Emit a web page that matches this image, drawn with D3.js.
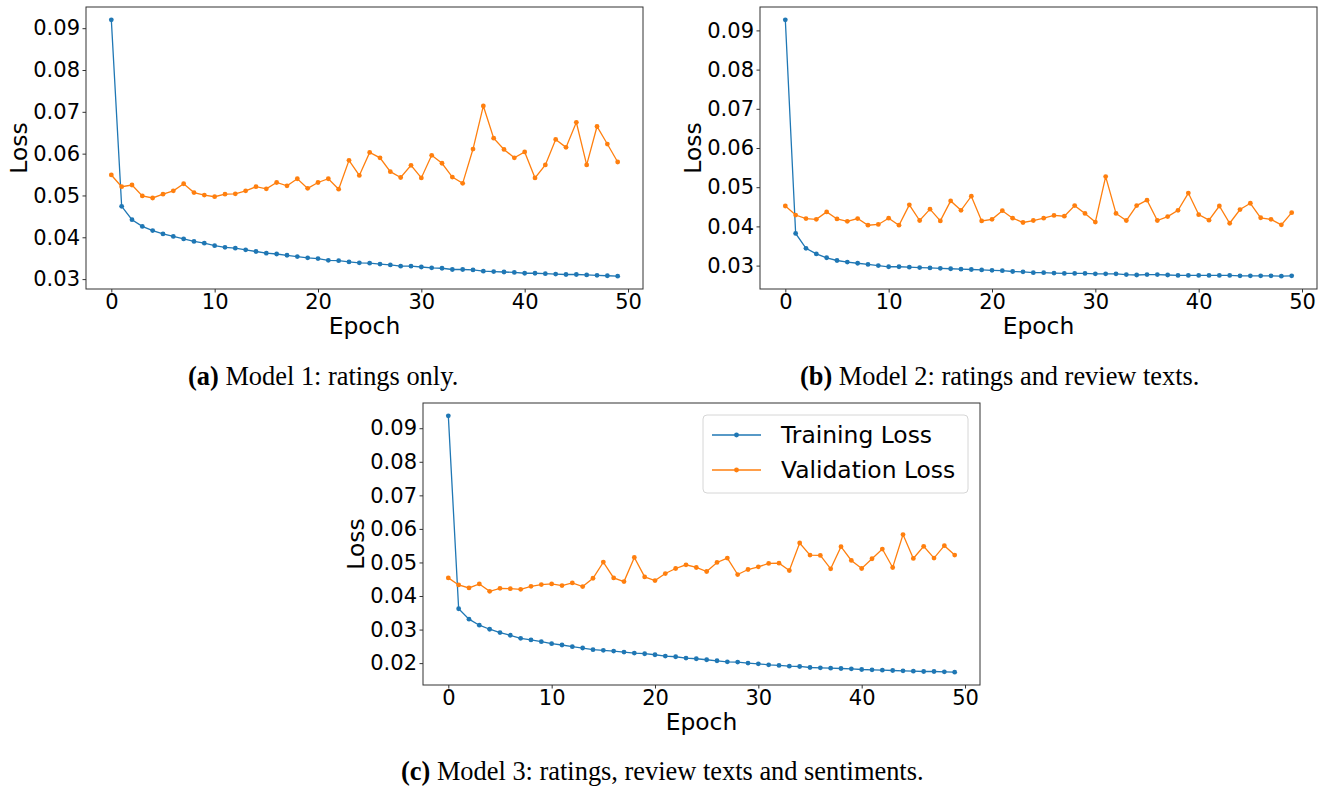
<!DOCTYPE html>
<html>
<head>
<meta charset="utf-8">
<script src="https://cdn.jsdelivr.net/npm/d3@7/dist/d3.min.js"></script>
<style>
  body { margin: 0; background: #fff; }
  svg { display: block; }
  .tick text { font-family: "DejaVu Sans", sans-serif; font-size: 21px; fill: #000; }
  .tick line { stroke: #333; stroke-width: 1; }
  .lbl { font-family: "DejaVu Sans", sans-serif; font-size: 23.4px; fill: #000; }
  .cap { font-family: "Liberation Serif", "Times New Roman", serif; font-size: 26.4px; fill: #000; }
</style>
</head>
<body>
<div id="chart"></div>
<script>
// Model 1: ratings only
const trainA = [0.0920, 0.0474, 0.0442, 0.0426, 0.0416, 0.0408, 0.0402, 0.0396, 0.0390, 0.0386,
  0.0380, 0.0376, 0.0374, 0.0370, 0.0366, 0.0362, 0.0360, 0.0357, 0.0354, 0.0351,
  0.0349, 0.0345, 0.0344, 0.0341, 0.0339, 0.0338, 0.0336, 0.0334, 0.0331, 0.0331,
  0.0329, 0.0327, 0.0326, 0.0323, 0.0323, 0.0322, 0.0319, 0.0318, 0.0317, 0.0316,
  0.0314, 0.0314, 0.0313, 0.0312, 0.0311, 0.0311, 0.0310, 0.0309, 0.0308, 0.0307];
const validA = [0.0549, 0.0521, 0.0525, 0.0499, 0.0494, 0.0503, 0.0511, 0.0528, 0.0507, 0.0501,
  0.0497, 0.0503, 0.0504, 0.0511, 0.0521, 0.0516, 0.0531, 0.0523, 0.0540, 0.0517,
  0.0531, 0.0540, 0.0515, 0.0584, 0.0548, 0.0603, 0.0590, 0.0557, 0.0543, 0.0572,
  0.0542, 0.0596, 0.0577, 0.0544, 0.0529, 0.0611, 0.0714, 0.0637, 0.0610, 0.0590,
  0.0604, 0.0542, 0.0573, 0.0634, 0.0615, 0.0675, 0.0573, 0.0665, 0.0623, 0.0580];

// Model 2: ratings and review texts
const trainB = [0.0927, 0.0382, 0.0344, 0.0330, 0.0320, 0.0313, 0.0309, 0.0306, 0.0303, 0.0300,
  0.0297, 0.0297, 0.0296, 0.0295, 0.0294, 0.0293, 0.0292, 0.0291, 0.0290, 0.0289,
  0.0288, 0.0287, 0.0285, 0.0284, 0.0282, 0.0282, 0.0281, 0.0280, 0.0280, 0.0280,
  0.0279, 0.0279, 0.0279, 0.0277, 0.0276, 0.0277, 0.0277, 0.0276, 0.0275, 0.0275,
  0.0275, 0.0275, 0.0275, 0.0275, 0.0274, 0.0274, 0.0274, 0.0274, 0.0273, 0.0274];
const validB = [0.0452, 0.0429, 0.0420, 0.0418, 0.0437, 0.0419, 0.0413, 0.0420, 0.0403, 0.0405,
  0.0421, 0.0403, 0.0455, 0.0415, 0.0444, 0.0414, 0.0465, 0.0441, 0.0477, 0.0414,
  0.0418, 0.0440, 0.0421, 0.0410, 0.0415, 0.0421, 0.0428, 0.0426, 0.0453, 0.0433,
  0.0411, 0.0527, 0.0433, 0.0415, 0.0453, 0.0467, 0.0415, 0.0425, 0.0441, 0.0485,
  0.0430, 0.0416, 0.0452, 0.0408, 0.0443, 0.0459, 0.0422, 0.0418, 0.0404, 0.0435];

// Model 3: ratings, review texts and sentiments
const trainC = [0.0937, 0.0362, 0.0331, 0.0313, 0.0301, 0.0291, 0.0283, 0.0274, 0.0269, 0.0264,
  0.0258, 0.0254, 0.0249, 0.0245, 0.0240, 0.0238, 0.0236, 0.0233, 0.0230, 0.0228,
  0.0225, 0.0221, 0.0219, 0.0215, 0.0213, 0.0210, 0.0207, 0.0204, 0.0203, 0.0200,
  0.0198, 0.0195, 0.0193, 0.0191, 0.0190, 0.0187, 0.0186, 0.0185, 0.0184, 0.0183,
  0.0181, 0.0180, 0.0179, 0.0178, 0.0177, 0.0176, 0.0175, 0.0175, 0.0174, 0.0173];
const validC = [0.0454, 0.0433, 0.0424, 0.0436, 0.0414, 0.0423, 0.0422, 0.0420, 0.0429, 0.0434,
  0.0436, 0.0431, 0.0439, 0.0428, 0.0453, 0.0501, 0.0454, 0.0443, 0.0515, 0.0457,
  0.0446, 0.0467, 0.0482, 0.0493, 0.0485, 0.0473, 0.0500, 0.0513, 0.0464, 0.0479,
  0.0487, 0.0497, 0.0498, 0.0476, 0.0558, 0.0522, 0.0521, 0.0481, 0.0547, 0.0506,
  0.0482, 0.0511, 0.0540, 0.0485, 0.0583, 0.0512, 0.0548, 0.0513, 0.0550, 0.0522];

const xTicks = [0, 10, 20, 30, 40, 50];
const yTicksAB = [0.03, 0.04, 0.05, 0.06, 0.07, 0.08, 0.09];
const yTicksC = [0.02, 0.03, 0.04, 0.05, 0.06, 0.07, 0.08, 0.09];
const seriesNames = ["Training Loss", "Validation Loss"];
const colors = ["#1f77b4", "#ff7f0e"];

const W = 1326, H = 787;
const pw = 557, ph = 282;

const svg = d3.select("#chart").append("svg")
  .attr("width", W).attr("height", H);

function drawPanel(left, top, train, valid, yTicks) {
  const g = svg.append("g").attr("transform", `translate(${left},${top})`);

  // matplotlib-style auto limits: 5% margin on each side
  const n = train.length;
  const x = d3.scaleLinear().domain([-0.05 * (n - 1), (n - 1) * 1.05]).range([0, pw]);
  const all = train.concat(valid);
  const [lo, hi] = d3.extent(all);
  const pad = (hi - lo) * 0.05;
  const y = d3.scaleLinear().domain([lo - pad, hi + pad]).range([ph, 0]);

  const xAxis = g.append("g").attr("transform", `translate(0,${ph})`)
    .call(d3.axisBottom(x).tickValues(xTicks).tickSize(3.5).tickPadding(1.8).tickFormat(d3.format("d")));
  const yAxis = g.append("g")
    .call(d3.axisLeft(y).tickValues(yTicks).tickSize(3.5).tickPadding(2.5).tickFormat(d3.format(".2f")));
  xAxis.select(".domain").remove();
  yAxis.select(".domain").remove();

  const line = d3.line().x((d, i) => x(i)).y(d => y(d));
  [train, valid].forEach((s, k) => {
    g.append("path").datum(s)
      .attr("fill", "none")
      .attr("stroke", colors[k])
      .attr("stroke-width", 1.3)
      .attr("d", line);
    g.append("g").selectAll("circle").data(s).join("circle")
      .attr("cx", (d, i) => x(i))
      .attr("cy", d => y(d))
      .attr("r", 2.4)
      .attr("fill", colors[k]);
  });

  g.append("rect")
    .attr("width", pw).attr("height", ph)
    .attr("fill", "none").attr("stroke", "#333").attr("stroke-width", 1);

  g.append("text").attr("class", "lbl")
    .attr("transform", `translate(-59.5,${ph / 2}) rotate(-90)`)
    .attr("text-anchor", "middle")
    .text("Loss");
  g.append("text").attr("class", "lbl")
    .attr("x", pw / 2).attr("y", ph + 45)
    .attr("text-anchor", "middle")
    .text("Epoch");
  return g;
}

function caption(x0, y0, tag, rest) {
  const t = svg.append("text").attr("class", "cap").attr("x", x0).attr("y", y0);
  t.append("tspan").attr("font-weight", "bold").text(tag);
  t.append("tspan").text(" " + rest);
}

drawPanel(86, 7, trainA, validA, yTicksAB);
drawPanel(760, 7, trainB, validB, yTicksAB);
const gc = drawPanel(423, 403, trainC, validC, yTicksC);

// legend in panel (c)
const leg = gc.append("g").attr("transform", "translate(280,12)");
leg.append("rect")
  .attr("width", 265).attr("height", 78).attr("rx", 4)
  .attr("fill", "#fff").attr("fill-opacity", 0.8)
  .attr("stroke", "#d6d6d6").attr("stroke-width", 1);
seriesNames.forEach((name, k) => {
  const yy = 20 + k * 35;
  leg.append("line").attr("x1", 9).attr("x2", 58).attr("y1", yy).attr("y2", yy)
    .attr("stroke", colors[k]).attr("stroke-width", 1.3);
  leg.append("circle").attr("cx", 33.5).attr("cy", yy).attr("r", 2.4).attr("fill", colors[k]);
  leg.append("text").attr("class", "lbl")
    .attr("x", 78).attr("y", yy).attr("dy", "0.35em")
    .text(name);
});

caption(188, 385, "(a)", "Model 1: ratings only.");
caption(800, 385, "(b)", "Model 2: ratings and review texts.");
caption(401, 780, "(c)", "Model 3: ratings, review texts and sentiments.");
</script>
</body>
</html>
